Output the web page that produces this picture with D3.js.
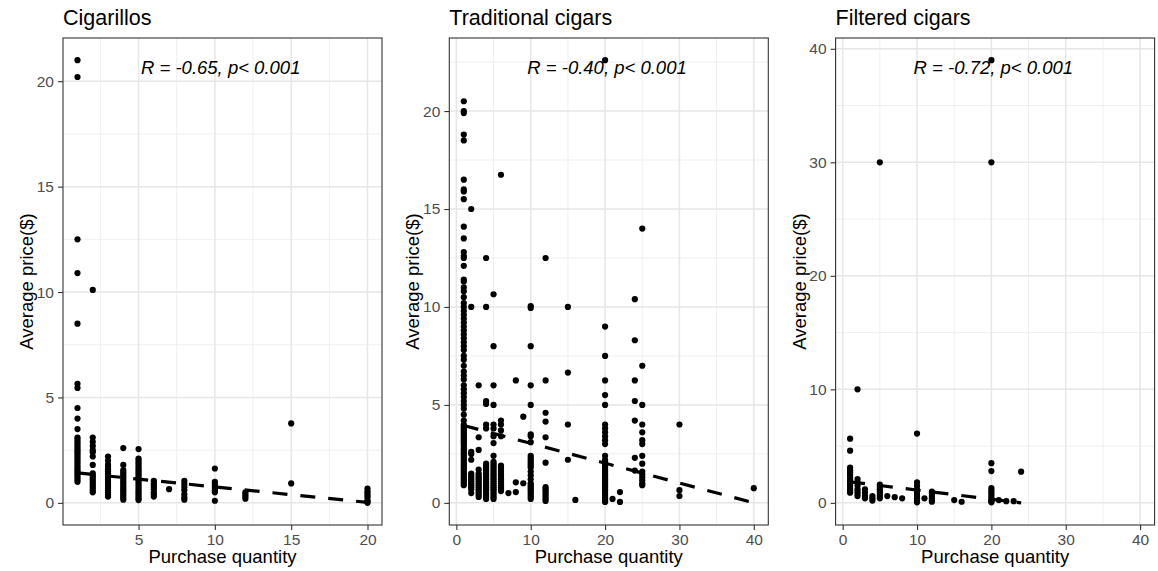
<!DOCTYPE html>
<html><head><meta charset="utf-8">
<script src="https://cdn.jsdelivr.net/npm/d3@7"></script>
<style>body{margin:0;background:#fff}svg{display:block}text{font-family:"Liberation Sans",Arial,Helvetica,sans-serif}</style>
</head><body><svg id="c" width="1158" height="571"></svg>
<script>
// ---------- data ----------
const panelTitles = ["Cigarillos", "Traditional cigars", "Filtered cigars"];
const corrLabels = ["R = -0.65, p< 0.001", "R = -0.40, p< 0.001", "R = -0.72, p< 0.001"];
const xAxisTitle = "Purchase quantity";
const yAxisTitle = "Average price($)";

// Cigarillos: purchase quantity -> prices observed
const cigarillosQty = [1, 2, 3, 4, 5, 6, 7, 8, 10, 12, 15, 20];
const cigarillosPrices = [
  [21.0, 20.2, 12.5, 10.9, 8.5, 5.65, 5.45, 4.5, 4.0, 3.5, 3.1, 3.0, 2.9, 2.8, 2.7, 2.6, 2.5, 2.4, 2.3, 2.2, 2.1, 2.0, 1.9, 1.8, 1.7, 1.6, 1.5, 1.4, 1.3, 1.2, 1.1, 1.0],
  [10.1, 3.1, 2.9, 2.7, 2.5, 2.4, 2.2, 1.8, 1.4, 1.3, 1.2, 1.1, 1.0, 0.9, 0.8, 0.7, 0.6, 0.5],
  [2.2, 2.0, 1.8, 1.7, 1.6, 1.5, 1.4, 1.3, 1.2, 1.1, 1.0, 0.9, 0.8, 0.7, 0.6, 0.5, 0.4, 0.3],
  [2.6, 1.8, 1.55, 1.45, 1.35, 1.25, 1.15, 1.05, 0.95, 0.85, 0.75, 0.65, 0.55, 0.45, 0.35, 0.25, 0.15],
  [2.55, 2.1, 2.0, 1.9, 1.8, 1.7, 1.6, 1.5, 1.4, 1.3, 1.2, 1.1, 1.0, 0.9, 0.8, 0.7, 0.6, 0.5, 0.4, 0.3, 0.2, 0.13],
  [1.05, 0.95, 0.85, 0.75, 0.65, 0.5, 0.4, 0.3],
  [0.65],
  [1.05, 0.9, 0.75, 0.6, 0.4, 0.25, 0.15],
  [1.63, 1.0, 0.9, 0.8, 0.7, 0.6, 0.5, 0.1],
  [0.5, 0.4, 0.3, 0.2],
  [3.77, 0.92],
  [0.68, 0.55, 0.45, 0.35, 0.25, 0.12, 0.05, 0.0]
];
const cigarillosFit = [[1, 1.42], [20, 0.02]];

const traditionalQty = [1, 2, 3, 4, 5, 6, 7, 8, 9, 10, 12, 15, 16, 20, 21, 22, 24, 25, 30, 40];
const traditionalPrices = [
  [20.5, 20.0, 19.9, 18.8, 18.5, 16.5, 16.0, 15.9, 15.5, 14.1, 13.5, 12.8, 12.6, 12.5, 12.1, 11.4, 11.3, 11.0, 10.8, 10.5, 10.2, 10.0, 9.8, 9.6, 9.4, 9.2, 9.0, 8.8, 8.6, 8.4, 8.2, 8.0, 7.8, 7.5, 7.3, 7.0, 6.7, 6.5, 6.3, 6.0, 5.8, 5.6, 5.4, 5.2, 5.0, 4.8, 4.5, 4.2, 4.0, 3.9, 3.8, 3.7, 3.6, 3.5, 3.4, 3.3, 3.2, 3.1, 3.0, 2.9, 2.8, 2.7, 2.6, 2.5, 2.4, 2.3, 2.2, 2.1, 2.0, 1.9, 1.8, 1.7, 1.6, 1.5, 1.4, 1.3, 1.2, 1.1, 1.0, 0.9],
  [15.0, 10.0, 2.6, 2.5, 2.2, 1.5, 1.4, 1.3, 1.2, 1.1, 1.0, 0.9, 0.8, 0.7, 0.5],
  [6.0, 3.35, 2.7, 1.7, 1.5, 1.4, 1.3, 1.2, 1.1, 1.0, 0.9, 0.8, 0.7, 0.6, 0.5, 0.4, 0.3],
  [12.5, 10.0, 5.2, 5.05, 4.0, 3.8, 2.0, 1.9, 1.8, 1.7, 1.6, 1.5, 1.4, 1.3, 1.2, 1.1, 1.0, 0.9, 0.8, 0.7, 0.6, 0.5, 0.4, 0.3, 0.2],
  [10.65, 8.0, 6.0, 5.0, 4.0, 3.8, 3.4, 3.05, 2.4, 2.1, 2.0, 1.9, 1.8, 1.7, 1.6, 1.5, 1.4, 1.3, 1.2, 1.1, 1.0, 0.9, 0.8, 0.7, 0.6, 0.5, 0.4, 0.3, 0.2],
  [16.75, 4.2, 4.0, 3.7, 3.4, 1.9, 1.8, 1.7, 1.6, 1.5, 1.4, 1.3, 1.2, 1.1, 1.0, 0.9, 0.8, 0.7, 0.6],
  [0.5],
  [6.25, 1.05, 0.55],
  [4.4, 1.0],
  [10.05, 9.95, 8.0, 6.0, 5.0, 3.5, 3.4, 3.1, 2.4, 2.3, 2.2, 2.1, 2.0, 1.9, 1.8, 1.6, 1.4, 1.2, 1.0, 0.9, 0.8, 0.7, 0.6, 0.5, 0.4, 0.3, 0.2],
  [12.5, 6.25, 4.6, 4.15, 3.35, 2.05, 0.8, 0.7, 0.6, 0.5, 0.4, 0.3, 0.2, 0.1],
  [10.0, 6.65, 4.0, 2.2],
  [0.15],
  [22.6, 9.0, 7.5, 6.25, 5.5, 5.0, 4.0, 3.8, 3.6, 3.4, 3.2, 3.0, 2.4, 2.2, 2.1, 2.0, 1.9, 1.8, 1.7, 1.6, 1.5, 1.4, 1.3, 1.2, 1.1, 1.0, 0.9, 0.8, 0.7, 0.6, 0.5, 0.4, 0.3, 0.2, 0.1, 0.05],
  [0.2],
  [0.55, 0.05],
  [10.4, 8.3, 6.25, 5.2, 4.2, 2.3, 1.65],
  [14.0, 7.0, 5.0, 4.0, 3.6, 3.2, 3.0, 2.4, 2.0, 1.6, 1.45, 1.3, 1.15, 1.0, 0.9],
  [4.0, 0.65, 0.35],
  [0.75]
];
const traditionalFit = [[1, 3.95], [40, 0.0]];

const filteredQty = [1, 2, 3, 4, 5, 6, 7, 8, 10, 11, 12, 15, 16, 20, 21, 22, 23, 24];
const filteredPrices = [
  [5.65, 4.6, 3.1, 2.9, 2.7, 2.5, 2.3, 2.1, 1.9, 1.7, 1.5, 1.3, 1.1, 0.9],
  [10.0, 2.1, 1.8, 1.5, 1.2, 1.0, 0.8, 0.6],
  [1.2, 0.9, 0.6, 0.4],
  [0.6, 0.4, 0.2],
  [30.0, 1.6, 1.4, 1.2, 1.0, 0.8, 0.6, 0.4],
  [0.6],
  [0.5],
  [0.4],
  [6.1, 1.8, 1.5, 1.2, 1.0, 0.8, 0.6, 0.4, 0.2, 0.05],
  [0.4],
  [1.0, 0.8, 0.6, 0.4, 0.2, 0.1],
  [0.25],
  [0.1],
  [39.0, 30.0, 3.5, 2.8, 1.3, 1.1, 0.9, 0.7, 0.5, 0.3, 0.15, 0.05],
  [0.25],
  [0.15],
  [0.15],
  [2.75]
];
const filteredFit = [[1, 1.85], [24, 0.0]];

// axis limits (data range before 5% expansion) and ticks
const xLimits = [[1, 20], [1, 40], [1, 40]];
const yLimits = [[0, 21], [0, 22.6], [0, 39]];
const xTickValues = [[5, 10, 15, 20], [0, 10, 20, 30, 40], [0, 10, 20, 30, 40]];
const yTickValues = [[0, 5, 10, 15, 20], [0, 5, 10, 15, 20], [0, 10, 20, 30, 40]];

// ---------- drawing ----------
const qtys = [cigarillosQty, traditionalQty, filteredQty];
const prices = [cigarillosPrices, traditionalPrices, filteredPrices];
const fits = [cigarillosFit, traditionalFit, filteredFit];

const svg = d3.select("#c");
const PANEL_W = 386, PL = 63, PW = 319, PT = 38, PB = 525;

function minorBreaks(major, dom) {
  const step = major[1] - major[0];
  const ext = [major[0] - step, ...major, major[major.length - 1] + step];
  const out = [];
  for (let i = 0; i < ext.length - 1; i++) {
    const m = (ext[i] + ext[i + 1]) / 2;
    if (m >= dom[0] && m <= dom[1]) out.push(m);
  }
  return out;
}

for (let i = 0; i < 3; i++) {
  const g = svg.append("g").attr("transform", `translate(${i * PANEL_W + (i === 0 ? 0 : i * 0.3)},0)`);
  const [xa, xb] = xLimits[i], [ya, yb] = yLimits[i];
  const xe = (xb - xa) * 0.05, ye = (yb - ya) * 0.05;
  const xDom = [xa - xe, xb + xe], yDom = [ya - ye, yb + ye];
  const x = d3.scaleLinear().domain(xDom).range([PL, PL + PW]);
  const y = d3.scaleLinear().domain(yDom).range([PB, PT]);

  const xMaj = xTickValues[i].filter(v => v >= xDom[0] && v <= xDom[1]);
  const yMaj = yTickValues[i];
  const xMin = minorBreaks(xTickValues[i], xDom);
  const yMin = minorBreaks(yTickValues[i], yDom);

  // grid
  const grid = g.append("g");
  grid.selectAll(".vmin").data(xMin).join("line")
    .attr("x1", d => x(d)).attr("x2", d => x(d)).attr("y1", PT).attr("y2", PB)
    .attr("stroke", "#EBEBEB").attr("stroke-width", 0.8);
  grid.selectAll(".hmin").data(yMin).join("line")
    .attr("y1", d => y(d)).attr("y2", d => y(d)).attr("x1", PL).attr("x2", PL + PW)
    .attr("stroke", "#EBEBEB").attr("stroke-width", 0.8);
  grid.selectAll(".vmaj").data(xMaj).join("line")
    .attr("x1", d => x(d)).attr("x2", d => x(d)).attr("y1", PT).attr("y2", PB)
    .attr("stroke", "#E6E6E6").attr("stroke-width", 1.5);
  grid.selectAll(".hmaj").data(yMaj).join("line")
    .attr("y1", d => y(d)).attr("y2", d => y(d)).attr("x1", PL).attr("x2", PL + PW)
    .attr("stroke", "#E6E6E6").attr("stroke-width", 1.5);

  // points
  const pts = [];
  qtys[i].forEach((q, k) => prices[i][k].forEach(p => pts.push([q, p])));
  g.append("g").selectAll("circle").data(pts).join("circle")
    .attr("cx", d => x(d[0])).attr("cy", d => y(d[1])).attr("r", 3.1).attr("fill", "#000");

  // fitted dashed line
  g.append("path").datum(fits[i])
    .attr("d", d3.line().x(d => x(d[0])).y(d => y(d[1])))
    .attr("fill", "none").attr("stroke", "#000").attr("stroke-width", 3.2)
    .attr("stroke-dasharray", "15,13");

  // panel border
  g.append("rect").attr("x", PL).attr("y", PT).attr("width", PW).attr("height", PB - PT)
    .attr("fill", "none").attr("stroke", "#333").attr("stroke-width", 1.1);

  // axes
  const ax = g.append("g").attr("transform", `translate(0,${PB})`)
    .call(d3.axisBottom(x).tickValues(xMaj).tickSize(5).tickPadding(4));
  const ay = g.append("g").attr("transform", `translate(${PL},0)`)
    .call(d3.axisLeft(y).tickValues(yMaj).tickSize(5).tickPadding(4));
  [ax, ay].forEach(a => {
    a.select(".domain").remove();
    a.selectAll(".tick line").attr("stroke", "#333").attr("stroke-width", 1.1);
    a.selectAll(".tick text").attr("fill", "#4D4D4D").style("font-size", "15.5px")
      .style("font-family", '"Liberation Sans",Arial,sans-serif');
  });

  // titles
  g.append("text").attr("x", PL).attr("y", 25).attr("font-size", 21.5).attr("fill", "#000")
    .text(panelTitles[i]);
  g.append("text").attr("x", PL + PW / 2).attr("y", 563).attr("text-anchor", "middle")
    .attr("font-size", 18.5).attr("fill", "#000").text(xAxisTitle);
  g.append("text").attr("transform", `translate(${PL - 30},${(PT + PB) / 2}) rotate(-90)`)
    .attr("text-anchor", "middle").attr("font-size", 18.5).attr("fill", "#000").text(yAxisTitle);

  // correlation label
  g.append("text").attr("x", PL + 78).attr("y", 74).attr("font-size", 18.5)
    .attr("font-style", "italic").attr("fill", "#000").text(corrLabels[i]);
}
</script></body></html>
